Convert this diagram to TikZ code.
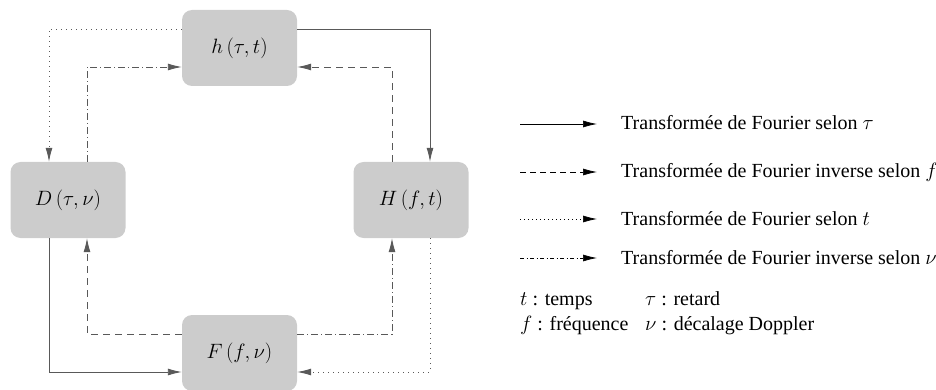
\documentclass[tikz,border=0pt]{standalone}
\usepackage{fontspec}
\newfontfamily\legfont{Liberation Serif}
\usetikzlibrary{arrows.meta}
\begin{document}
\begin{tikzpicture}[x=1pt,y=-1pt,
  box/.style={fill=black!20,rounded corners=10pt,minimum width=115pt,minimum height=76pt,inner sep=0pt,font=\fontsize{20.74}{25}\selectfont},
  arr/.style={-{Latex[length=14pt,width=7pt]},line width=0.9pt,draw=black!65},
  larr/.style={-{Latex[length=14pt,width=7pt]},line width=0.7pt,draw=black},
  sol/.style={},
  dsh/.style={dash pattern=on 7pt off 5pt},
  dtt/.style={dash pattern=on 1pt off 4pt},
  dshdt/.style={dash pattern=on 7pt off 3pt on 1pt off 3pt},
  leg/.style={anchor=base west,inner sep=0pt,font=\legfont\fontsize{20}{24}\selectfont}
]
\useasboundingbox (0,0) rectangle (936,390);
\node[box] (h) at (239.5,48) {$h\,(\tau,t)$};
\node[box] (D) at (68,200) {$D\,(\tau,\nu)$};
\node[box] (H) at (411,200) {$H\,(f,t)$};
\node[box] (F) at (239.5,353) {$F\,(f,\nu)$};
% solid
\draw[arr,sol] (h.east |- 0,29) -| (H.north -| 430,0);
\draw[arr,sol] (D.south -| 49,0) |- (F.west |- 0,372);
% dotted
\draw[arr,dtt] (h.west |- 0,29) -| (D.north -| 49,0);
\draw[arr,dtt] (H.south -| 430,0) |- (F.east |- 0,372);
% dash-dot
\draw[arr,dshdt] (D.north -| 87,0) |- (h.west |- 0,67);
\draw[arr,dshdt] (F.east |- 0,334) -| (H.south -| 392,0);
% dashed
\draw[arr,dsh] (H.north -| 392,0) |- (h.east |- 0,67);
\draw[arr,dsh] (F.west |- 0,334) -| (D.south -| 87,0);
% legend
\coordinate (a1) at (520,124); \coordinate (b1) at (597,124);
\coordinate (a2) at (520,172); \coordinate (b2) at (597,172);
\coordinate (a3) at (520,219); \coordinate (b3) at (597,219);
\coordinate (a4) at (520,258); \coordinate (b4) at (597,258);
\draw[larr] (a1) -- (b1);
\draw[larr,dash pattern=on 6pt off 4pt] (a2) -- (b2);
\draw[larr,dash pattern=on 1pt off 3pt] (a3) -- (b3);
\draw[larr,dash pattern=on 4pt off 2.5pt on 1pt off 2.5pt] (a4) -- (b4);
\node[leg] (l1) at (621,130) {Transformée de Fourier selon $\tau$};
\node[leg] (l2) at (621,178) {Transformée de Fourier inverse selon $f$};
\node[leg] (l3) at (621,225) {Transformée de Fourier selon $t$};
\node[leg] (l4) at (621,264) {Transformée de Fourier inverse selon $\nu$};
\node[leg] (t1) at (520,305) {$t$ : temps};
\node[leg] (t2) at (645,305) {$\tau$ : retard};
\node[leg] (t3) at (520,330) {$f$ : fréquence};
\node[leg] (t4) at (645,330) {$\nu$ : décalage Doppler};
\end{tikzpicture}
\end{document}
